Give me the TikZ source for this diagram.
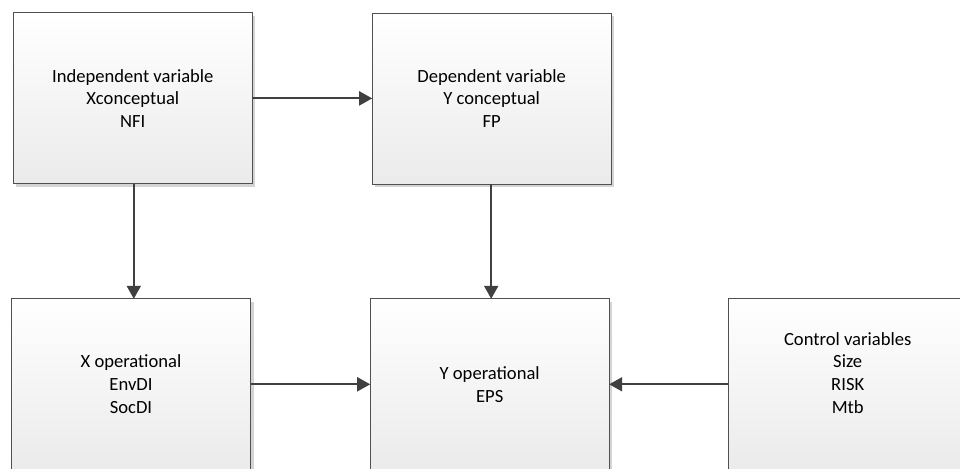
\documentclass[tikz,border=0pt]{standalone}
\usepackage{fontspec}
\setmainfont{Carlito}
\usetikzlibrary{arrows.meta,shadows}
\definecolor{linecol}{HTML}{404040}
\definecolor{boxline}{HTML}{505050}
\definecolor{shadowcol}{HTML}{D4D4D4}
\tikzset{
  varbox/.style={draw=boxline, line width=0.9pt, minimum width=239pt, minimum height=171pt,
    inner sep=0pt, outer sep=0pt, top color=white, bottom color=black!8, align=center,
    font=\fontsize{18.6pt}{22.8pt}\selectfont,
    drop shadow={shadow xshift=3pt, shadow yshift=-3pt, fill=shadowcol, opacity=1}},
  conn/.style={draw=linecol, line width=2pt, -{Triangle[length=13pt,width=14pt]}}
}
\begin{document}
\begin{tikzpicture}[x=1pt,y=-1pt]
\path[use as bounding box, clip] (0,0) rectangle (960,468);
\fill[white] (0,0) rectangle (960,468);
\node[varbox] (TL) at (132.8,98.4) {Independent variable\\Xconceptual\\NFI};
\node[varbox] (TM) at (491.7,98.5) {Dependent variable\\Y conceptual\\FP};
\node[varbox] (BL) at (131,384.3) {X operational\\EnvDI\\SocDI};
\node[varbox] (BM) at (489.7,384.3) {Y operational\\EPS};
\node[varbox] (R) at (847.7,384.3) {Control variables\\Size\\RISK\\Mtb\\\mbox{}};
\draw[conn] (TL.east) -- (TL.east -| TM.west);
\draw[conn] ([xshift=1pt]TL.south) -- ([xshift=1pt]TL.south |- BL.north);
\draw[conn] ([xshift=-0.5pt]TM.south) -- ([xshift=-0.5pt]TM.south |- BM.north);
\draw[conn] (BL.east) -- (BL.east -| BM.west);
\draw[conn] (R.west) -- (R.west -| BM.east);
\end{tikzpicture}
\end{document}
